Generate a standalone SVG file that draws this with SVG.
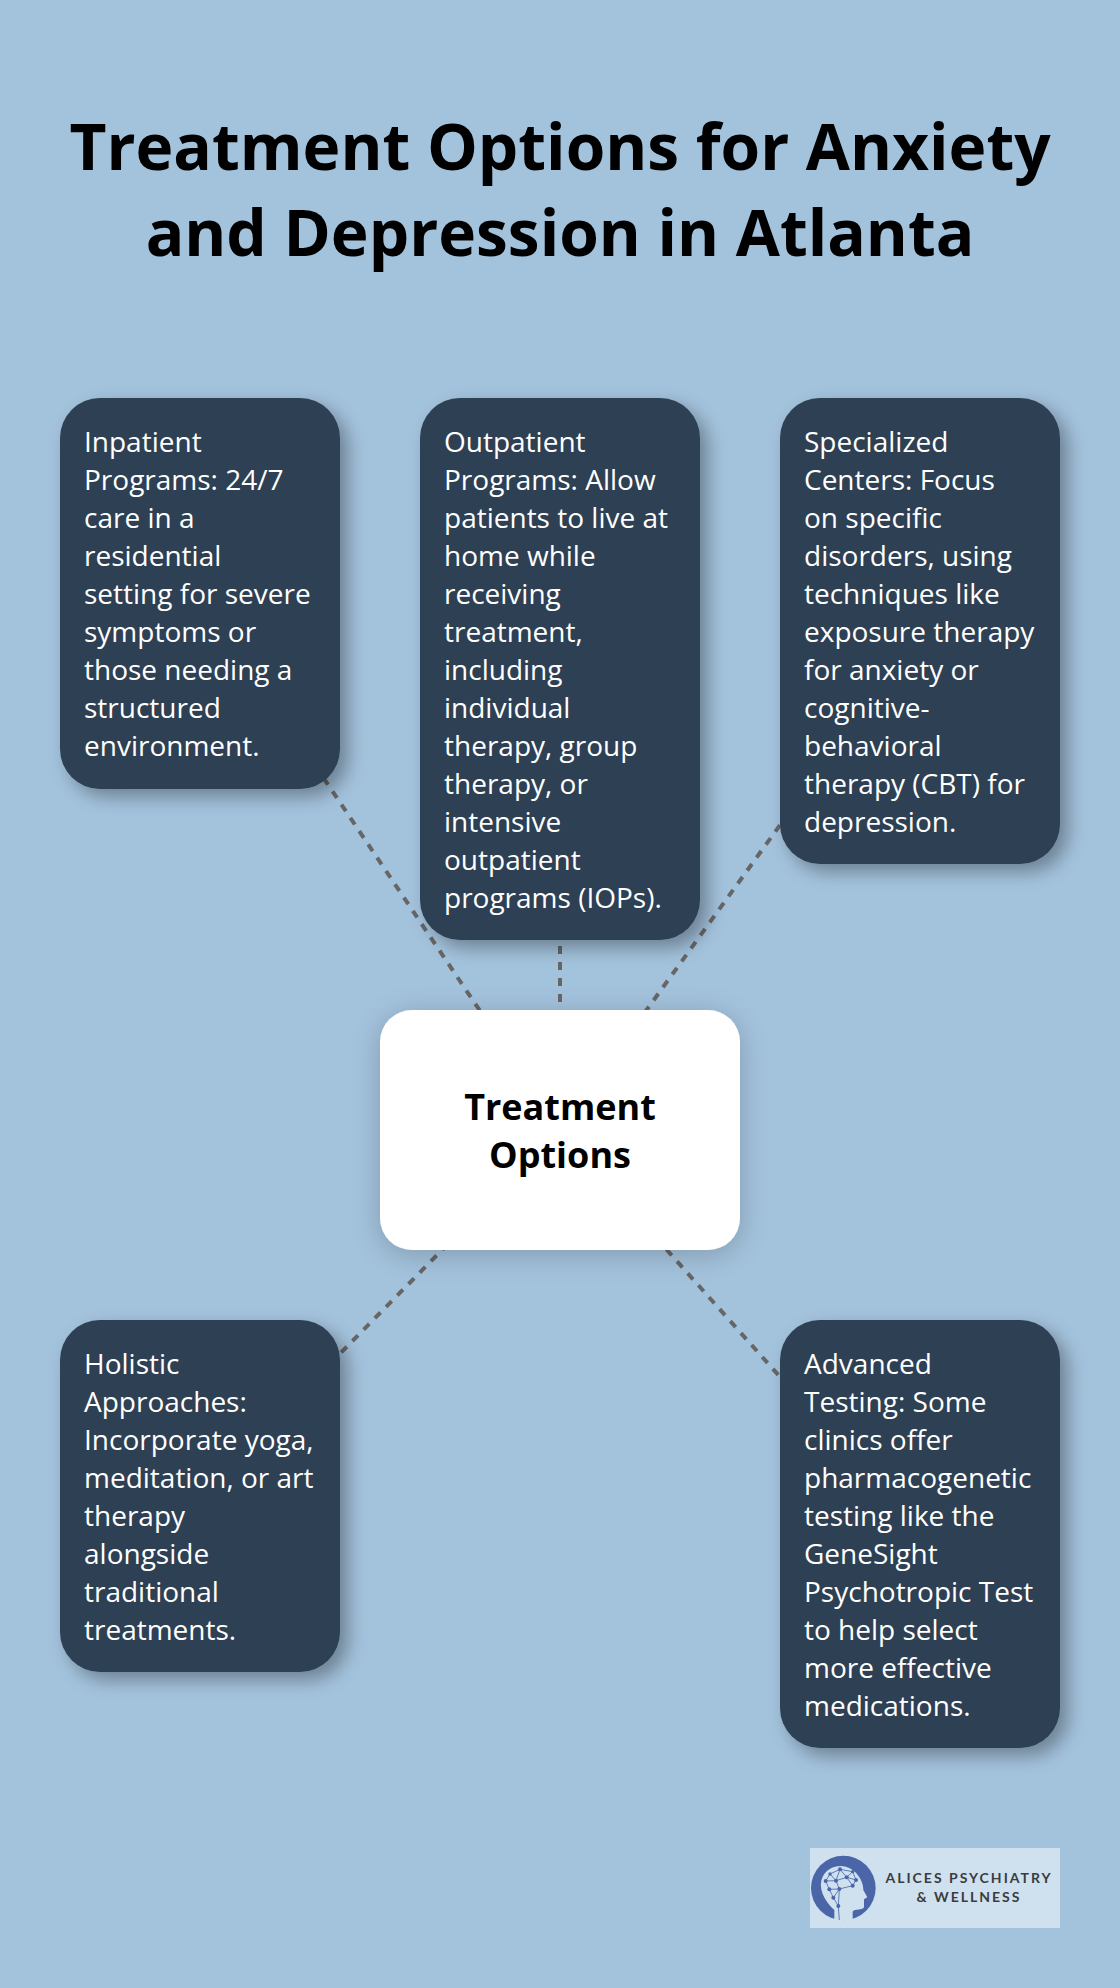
<svg xmlns="http://www.w3.org/2000/svg" width="1120" height="1988" viewBox="0 0 1120 1988">
<style>
.t{font-family:"Open Sans","Noto Sans",sans-serif;fill:#000;font-weight:700;text-anchor:middle}
.title{font-size:64px}
.hub{font-size:36px}
.b{font-family:"Open Sans","Noto Sans",sans-serif;font-size:28px;fill:#fff}
.card{fill:#2e4053;filter:url(#s)}
.c{stroke:#666;stroke-width:4;stroke-dasharray:8 8;fill:none}
.lg{font-family:"Lato","Open Sans",sans-serif;font-weight:700;font-size:14px;letter-spacing:2px;fill:#3a3c40;text-anchor:middle}
</style>
<defs>
<filter id="s" x="-25%" y="-25%" width="160%" height="160%"><feDropShadow dx="8" dy="8" stdDeviation="9" flood-color="#000" flood-opacity=".33"/></filter>
<filter id="h" x="-25%" y="-25%" width="150%" height="150%"><feDropShadow dx="0" dy="5" stdDeviation="14" flood-color="#000" flood-opacity=".2"/></filter>
</defs>
<rect width="1120" height="1988" fill="#a3c2dc"/>
<g id="title"><text class="t title" x="560" y="170">Treatment Options for Anxiety</text><text class="t title" x="560" y="256">and Depression in Atlanta</text></g>
<g id="connectors">
<line class="c" x1="560" y1="1130" x2="200" y2="594"/>
<line class="c" x1="560" y1="1130" x2="560" y2="669"/>
<line class="c" x1="560" y1="1130" x2="920" y2="631"/>
<line class="c" x1="560" y1="1130" x2="200" y2="1496"/>
<line class="c" x1="560" y1="1130" x2="920" y2="1534"/>
</g>
<g id="inpatient"><rect class="card" x="60" y="398" width="280" height="391" rx="40"/>
<text class="b"><tspan x="84" y="452">Inpatient</tspan><tspan x="84" y="490">Programs: 24/7</tspan><tspan x="84" y="528">care in a</tspan><tspan x="84" y="566">residential</tspan><tspan x="84" y="604">setting for severe</tspan><tspan x="84" y="642">symptoms or</tspan><tspan x="84" y="680">those needing a</tspan><tspan x="84" y="718">structured</tspan><tspan x="84" y="756">environment.</tspan></text></g>
<g id="outpatient"><rect class="card" x="420" y="398" width="280" height="542" rx="40"/>
<text class="b"><tspan x="444" y="452">Outpatient</tspan><tspan x="444" y="490">Programs: Allow</tspan><tspan x="444" y="528">patients to live at</tspan><tspan x="444" y="566">home while</tspan><tspan x="444" y="604">receiving</tspan><tspan x="444" y="642">treatment,</tspan><tspan x="444" y="680">including</tspan><tspan x="444" y="718">individual</tspan><tspan x="444" y="756">therapy, group</tspan><tspan x="444" y="794">therapy, or</tspan><tspan x="444" y="832">intensive</tspan><tspan x="444" y="870">outpatient</tspan><tspan x="444" y="908">programs (IOPs).</tspan></text></g>
<g id="specialized"><rect class="card" x="780" y="398" width="280" height="466" rx="40"/>
<text class="b"><tspan x="804" y="452">Specialized</tspan><tspan x="804" y="490">Centers: Focus</tspan><tspan x="804" y="528">on specific</tspan><tspan x="804" y="566">disorders, using</tspan><tspan x="804" y="604">techniques like</tspan><tspan x="804" y="642">exposure therapy</tspan><tspan x="804" y="680">for anxiety or</tspan><tspan x="804" y="718">cognitive-</tspan><tspan x="804" y="756">behavioral</tspan><tspan x="804" y="794">therapy (CBT) for</tspan><tspan x="804" y="832">depression.</tspan></text></g>
<g id="hub"><rect x="380" y="1010" width="360" height="240" rx="32" fill="#fff" filter="url(#h)"/>
<text class="t hub" x="560" y="1120">Treatment</text><text class="t hub" x="560" y="1168">Options</text></g>
<g id="holistic"><rect class="card" x="60" y="1320" width="280" height="352" rx="40"/>
<text class="b"><tspan x="84" y="1374">Holistic</tspan><tspan x="84" y="1412">Approaches:</tspan><tspan x="84" y="1450">Incorporate yoga,</tspan><tspan x="84" y="1488">meditation, or art</tspan><tspan x="84" y="1526">therapy</tspan><tspan x="84" y="1564">alongside</tspan><tspan x="84" y="1602">traditional</tspan><tspan x="84" y="1640">treatments.</tspan></text></g>
<g id="advanced"><rect class="card" x="780" y="1320" width="280" height="428" rx="40"/>
<text class="b"><tspan x="804" y="1374">Advanced</tspan><tspan x="804" y="1412">Testing: Some</tspan><tspan x="804" y="1450">clinics offer</tspan><tspan x="804" y="1488">pharmacogenetic</tspan><tspan x="804" y="1526">testing like the</tspan><tspan x="804" y="1564">GeneSight</tspan><tspan x="804" y="1602">Psychotropic Test</tspan><tspan x="804" y="1640">to help select</tspan><tspan x="804" y="1678">more effective</tspan><tspan x="804" y="1716">medications.</tspan></text></g>
<g id="logo">
<rect x="810" y="1848" width="250" height="80" fill="#cfe0ef"/>
<g transform="translate(780 1820) scale(.33333)">
<circle cx="190" cy="204" r="97" fill="#4a66a8"/>
<path d="M163 302V270C130 240 113 200 128 170 150 128 212 125 240 175 248 190 250 200 250 210L262 232 252 238V262C248 272 225 265 218 275V302Z" fill="#cfe0ef"/>
<path d="M178 300 175 258 160 233 148 208 137 183 150 162 180 148 218 155 228 180 218 197 200 172 180 148 168 182 150 162M137 183 168 182 200 172 218 155M168 182 178 207 218 197M148 208 178 207 160 233M178 207 175 258M200 172 228 180" fill="none" stroke="#4a66a8" stroke-width="2.5"/>
<g fill="#4a66a8"><circle cx="180" cy="148" r="6"/><circle cx="150" cy="162" r="5"/><circle cx="137" cy="183" r="6"/><circle cx="168" cy="182" r="6"/><circle cx="200" cy="172" r="6"/><circle cx="228" cy="180" r="6"/><circle cx="218" cy="155" r="5"/><circle cx="148" cy="208" r="6"/><circle cx="178" cy="207" r="6"/><circle cx="218" cy="197" r="6"/><circle cx="160" cy="233" r="6"/><circle cx="175" cy="258" r="6"/></g>
</g>
<text class="lg" x="969" y="1883">ALICES PSYCHIATRY</text><text class="lg" x="969" y="1902">&amp; WELLNESS</text>
</g>
</svg>
